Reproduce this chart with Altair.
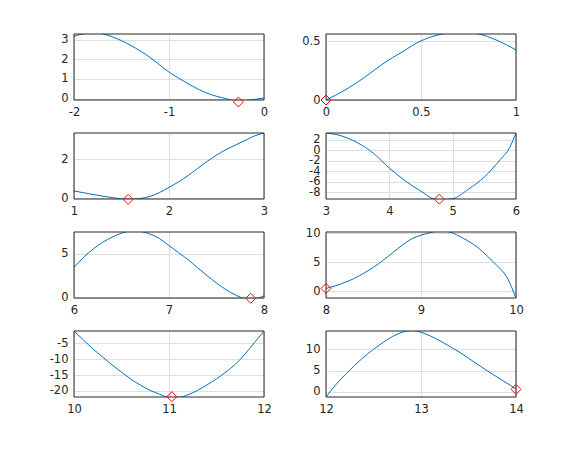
import altair as alt
import pandas as pd

# ---- data ----
p1_x = [-2.0, -1.9, -1.8, -1.7, -1.6, -1.5, -1.4, -1.3, -1.2, -1.1, -1.0, -0.9, -0.8, -0.7, -0.6, -0.5, -0.4, -0.3, -0.2, -0.1, 0.0]
p1_y = [3.17, 3.3, 3.35, 3.3, 3.15, 2.95, 2.7, 2.42, 2.1, 1.72, 1.35, 1.05, 0.76, 0.5, 0.28, 0.12, 0.0, -0.12, -0.1, -0.04, 0.03]

p2_x = [0.0, 0.1, 0.2, 0.3, 0.4, 0.5, 0.6, 0.7, 0.8, 0.9, 1.0]
p2_y = [0.0, 0.085, 0.19, 0.31, 0.41, 0.505, 0.56, 0.58, 0.565, 0.51, 0.427]

p3_x = [1.0, 1.1, 1.2, 1.3, 1.4, 1.5, 1.6, 1.7, 1.8, 1.9, 2.0, 2.1, 2.2, 2.3, 2.4, 2.5, 2.6, 2.7, 2.8, 2.9, 3.0]
p3_y = [0.38, 0.29, 0.2, 0.12, 0.04, -0.02, -0.04, 0.0, 0.1, 0.3, 0.56, 0.84, 1.16, 1.52, 1.88, 2.2, 2.48, 2.72, 2.95, 3.18, 3.33]

p4_x = [3.0, 3.25, 3.5, 3.75, 4.0, 4.25, 4.5, 4.75, 5.0, 5.25, 5.5, 5.75, 5.9, 6.0]
p4_y = [3.3, 2.7, 1.4, -0.6, -3.4, -5.8, -7.8, -9.4, -9.2, -7.4, -5.1, -1.8, 0.5, 3.3]

p5_x = [6.0, 6.1, 6.2, 6.3, 6.4, 6.5, 6.6, 6.7, 6.8, 6.9, 7.0, 7.1, 7.2, 7.3, 7.4, 7.5, 7.6, 7.7, 7.8, 7.9, 8.0]
p5_y = [3.43, 4.55, 5.5, 6.25, 6.85, 7.3, 7.55, 7.5, 7.2, 6.7, 5.9, 5.1, 4.3, 3.4, 2.5, 1.64, 0.9, 0.3, -0.1, -0.1, 0.2]

p6_x = [8.0, 8.1, 8.2, 8.3, 8.4, 8.5, 8.6, 8.7, 8.8, 8.9, 9.0, 9.1, 9.2, 9.3, 9.4, 9.5, 9.6, 9.7, 9.8, 9.9, 10.0]
p6_y = [0.45, 0.9, 1.5, 2.2, 3.1, 4.1, 5.3, 6.6, 7.9, 9.0, 9.65, 10.1, 10.4, 10.2, 9.5, 8.6, 7.5, 6.0, 4.4, 2.5, -1.2]

p7_x = [10.0, 10.1, 10.2, 10.3, 10.4, 10.5, 10.6, 10.7, 10.8, 10.9, 11.0, 11.1, 11.2, 11.3, 11.4, 11.5, 11.6, 11.7, 11.8, 11.9, 12.0]
p7_y = [-1.2, -4.0, -6.8, -9.3, -11.8, -14.1, -16.3, -18.2, -19.8, -21.0, -22.0, -22.0, -21.2, -19.8, -18.1, -16.2, -14.0, -11.6, -8.4, -4.8, -1.2]

p8_x = [12.0, 12.1, 12.2, 12.3, 12.4, 12.5, 12.6, 12.7, 12.8, 12.9, 13.0, 13.1, 13.2, 13.3, 13.4, 13.5, 13.6, 13.7, 13.8, 13.9, 14.0]
p8_y = [-1.2, 1.6, 4.0, 6.2, 8.2, 10.0, 11.6, 13.0, 14.0, 14.4, 14.0, 13.1, 12.0, 10.7, 9.4, 7.9, 6.4, 4.9, 3.5, 2.1, 0.7]

marker_x = [-0.27, 0.0, 1.57, 4.79, 7.86, 8.0, 11.03, 14.0]
marker_y = [-0.17, 0.0, -0.05, -9.3, -0.08, 0.45, -21.8, 0.6]

x_domains = [[-2, 0], [0, 1], [1, 3], [3, 6], [6, 8], [8, 10], [10, 12], [12, 14]]
y_domains = [[-0.07, 3.29], [0, 0.564], [-0.03, 3.33], [-9.27, 3.27], [-0.05, 7.44], [-1.2, 10.2], [-21.9, -1.17], [-1.2, 14.3]]
x_ticks = [[-2, -1, 0], [0, 0.5, 1], [1, 2, 3], [3, 4, 5, 6], [6, 7, 8], [8, 9, 10], [10, 11, 12], [12, 13, 14]]
y_ticks = [[0, 1, 2, 3], [0, 0.5], [0, 2], [2, 0, -2, -4, -6, -8], [0, 5], [0, 5, 10], [-5, -10, -15, -20], [0, 5, 10]]

xs_all = [p1_x, p2_x, p3_x, p4_x, p5_x, p6_x, p7_x, p8_x]
ys_all = [p1_y, p2_y, p3_y, p4_y, p5_y, p6_y, p7_y, p8_y]

LINE = "#0072BD"
TXT = "#262626"
W, H = 190, 66


def panel(i):
    df = pd.DataFrame({"x": xs_all[i], "y": ys_all[i]})
    mk = pd.DataFrame({"x": [marker_x[i]], "y": [marker_y[i]]})
    xs = alt.Scale(domain=x_domains[i], nice=False, zero=False)
    ys = alt.Scale(domain=y_domains[i], nice=False, zero=False)
    xa = alt.Axis(values=x_ticks[i], tickCount=50, title=None, labelExpr="'' + datum.value")
    ya = alt.Axis(values=y_ticks[i], tickCount=50, title=None, labelExpr="'' + datum.value")
    line = alt.Chart(df).mark_line(clip=True, color=LINE, strokeWidth=1, interpolate="monotone").encode(
        x=alt.X("x:Q", scale=xs, axis=xa),
        y=alt.Y("y:Q", scale=ys, axis=ya),
    )
    frame = alt.Chart(mk).mark_rect(fill=None, fillOpacity=0, stroke=TXT, strokeWidth=1).encode(
        x=alt.value(0), x2=alt.value(W), y=alt.value(0), y2=alt.value(H)
    )
    pt = alt.Chart(mk).mark_point(shape="diamond", color="#FF0000", size=100,
                                  filled=False, clip=False, strokeWidth=1, opacity=1).encode(
        x=alt.X("x:Q", scale=xs),
        y=alt.Y("y:Q", scale=ys),
    )
    return alt.layer(line, frame, pt).properties(width=W, height=H)


chart = alt.concat(*[panel(i) for i in range(8)], columns=2,
                   spacing={"row": 33, "column": 62}, bounds="flush").properties(
    padding={"left": 41, "top": 25, "right": 5, "bottom": 5},
    background="white",
).configure_view(
    stroke=None
).configure_axis(
    grid=True, gridColor="#dfdfdf", gridWidth=1,
    ticks=False, domain=False,
    labelFont="DejaVu Sans", labelFontSize=11.5, labelColor=TXT,
    labelFlush=False, labelOverlap=False, labelPadding=6,
)

chart.save("out.html", embed_options={"renderer": "svg", "actions": False})
